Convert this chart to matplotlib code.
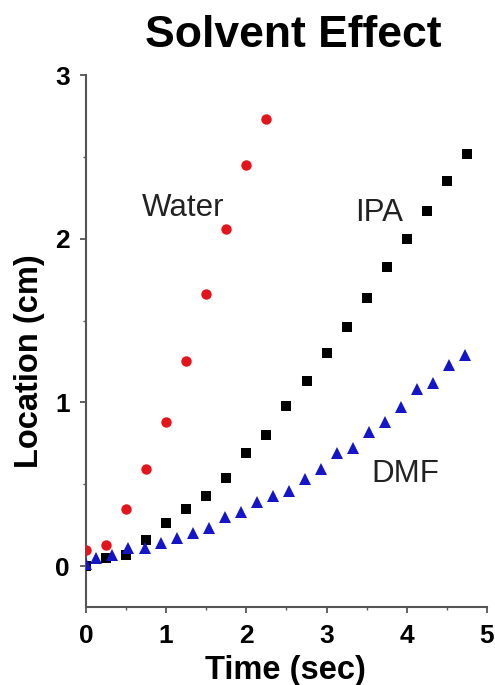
import matplotlib
matplotlib.use('Agg')
import matplotlib.pyplot as plt
from matplotlib.ticker import MultipleLocator

plt.rcParams['font.family'] = ['Liberation Sans', 'DejaVu Sans']

# Water (red circles)
water_t = [0.0, 0.25, 0.5, 0.75, 1.0, 1.25, 1.5, 1.75, 2.0, 2.25]
water_y = [0.10, 0.13, 0.35, 0.59, 0.88, 1.25, 1.66, 2.06, 2.45, 2.73]

# IPA (black squares)
ipa_t = [0.0, 0.25, 0.5, 0.75, 1.0, 1.25, 1.5, 1.75, 2.0, 2.25,
         2.5, 2.75, 3.0, 3.25, 3.5, 3.75, 4.0, 4.25, 4.5, 4.75]
ipa_y = [0.00, 0.05, 0.07, 0.16, 0.26, 0.35, 0.43, 0.54, 0.69, 0.80,
         0.98, 1.13, 1.30, 1.46, 1.64, 1.83, 2.00, 2.17, 2.35, 2.52]

# DMF (blue triangles)
dmf_t = [0.0, 0.13, 0.33, 0.53, 0.73, 0.93, 1.13, 1.33, 1.53, 1.73,
         1.93, 2.13, 2.33, 2.53, 2.73, 2.93, 3.13, 3.33, 3.53, 3.73,
         3.93, 4.13, 4.33, 4.53, 4.73]
dmf_y = [0.01, 0.05, 0.07, 0.11, 0.11, 0.14, 0.17, 0.20, 0.23, 0.30,
         0.33, 0.39, 0.43, 0.46, 0.53, 0.59, 0.69, 0.72, 0.82, 0.88,
         0.97, 1.08, 1.12, 1.23, 1.29]

fig = plt.figure(figsize=(4.95, 6.85), dpi=100)
ax = fig.add_axes([0.1737, 0.1139, 0.81, 0.7766])

ax.plot(ipa_t, ipa_y, 's', color='black', ms=7, mew=0, zorder=3)
ax.plot(water_t, water_y, 'o', color='#e3141c', ms=7.5, mew=0, zorder=3)
ax.plot(dmf_t, dmf_y, '^', color='#1414c8', ms=9, mew=0, zorder=4)

# series labels
ax.text(1.21, 2.19, 'Water', fontsize=22.5, ha='center', va='center', color='#222222')
ax.text(3.65, 2.16, 'IPA', fontsize=22.5, ha='center', va='center', color='#222222')
ax.text(3.98, 0.56, 'DMF', fontsize=22.5, ha='center', va='center', color='#222222')

ax.set_xlim(0, 5)
ax.set_ylim(-0.25, 3)
ax.xaxis.set_major_locator(MultipleLocator(1))
ax.xaxis.set_minor_locator(MultipleLocator(0.5))
ax.yaxis.set_major_locator(MultipleLocator(1))
ax.yaxis.set_minor_locator(MultipleLocator(0.5))

for s in ['top', 'right']:
    ax.spines[s].set_visible(False)
for s in ['left', 'bottom']:
    ax.spines[s].set_color('#555555')
    ax.spines[s].set_linewidth(1.5)

ax.tick_params(which='major', direction='out', length=4, width=1.3, color='#555555',
               labelsize=19)
ax.tick_params(which='minor', direction='out', length=2.5, width=1.0, color='#555555')
ax.tick_params(axis='x', which='major', pad=8.5)
ax.tick_params(axis='y', which='major', pad=7.5)
for lbl in ax.get_xticklabels() + ax.get_yticklabels():
    lbl.set_fontweight('bold')

ax.set_xlabel('Time (sec)', fontsize=23.5, fontweight='bold', va='center')
ax.xaxis.set_label_coords(0.497, -0.12)
ax.set_ylabel('Location (cm)', fontsize=23.5, fontweight='bold', va='center')
ax.yaxis.set_label_coords(-0.142, 0.462)
fig.text(0.592, 1 - 47 / 685, 'Solvent Effect', fontsize=32, fontweight='bold',
         ha='center', va='baseline')

fig.savefig('out.png', dpi=100)
